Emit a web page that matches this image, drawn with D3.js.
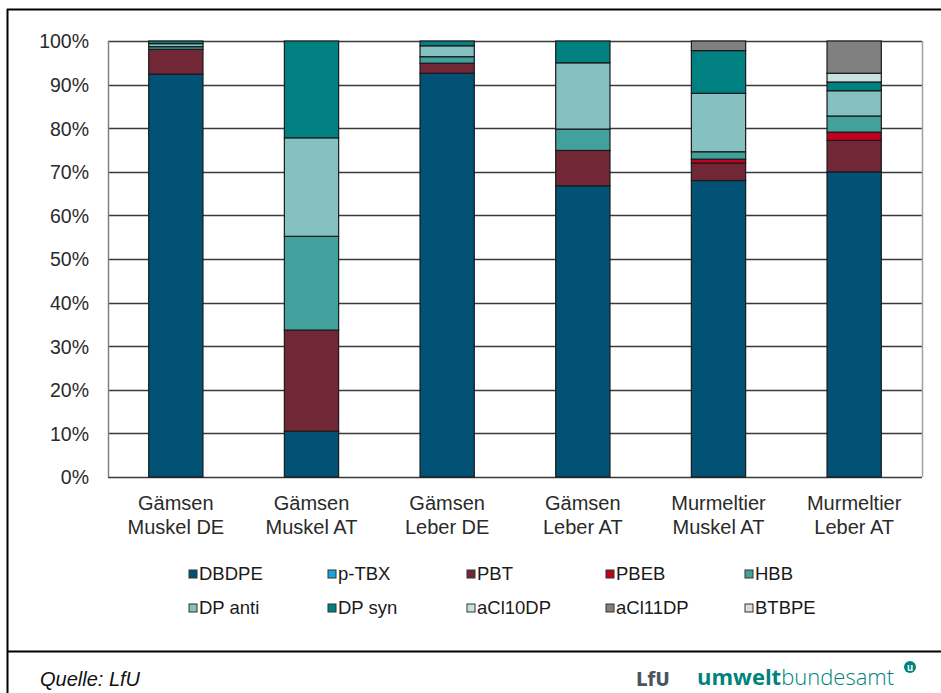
<!DOCTYPE html>
<html><head><meta charset="utf-8">
<script src="https://cdn.jsdelivr.net/npm/d3@7"></script>
<style>body{margin:0;background:#fff}svg{display:block;font-family:"Liberation Sans",Arial,sans-serif}</style>
</head><body><svg id="c" width="941" height="693"></svg>
<script>
const categories = [["Gämsen","Muskel DE"],["Gämsen","Muskel AT"],["Gämsen","Leber DE"],["Gämsen","Leber AT"],["Murmeltier","Muskel AT"],["Murmeltier","Leber AT"]];
const seriesNames = ["DBDPE","p-TBX","PBT","PBEB","HBB","DP anti","DP syn","aCl10DP","aCl11DP","BTBPE"];
const DBDPE   = [92.4, 10.5, 92.6, 66.8, 68.0, 70.0];
const pTBX    = [0, 0, 0, 0, 0, 0];
const PBT     = [5.7, 23.2, 2.3, 8.1, 4.0, 7.2];
const PBEB    = [0, 0, 0, 0, 0.9, 1.9];
const HBB     = [0.6, 21.5, 1.5, 4.9, 1.7, 3.7];
const DPanti  = [0.7, 22.6, 2.5, 15.2, 13.4, 5.8];
const DPsyn   = [0.6, 22.2, 1.1, 5.0, 9.8, 2.0];
const aCl10DP = [0, 0, 0, 0, 0, 2.0];
const aCl11DP = [0, 0, 0, 0, 2.2, 7.4];
const BTBPE   = [0, 0, 0, 0, 0, 0];
const seriesValues = [DBDPE, pTBX, PBT, PBEB, HBB, DPanti, DPsyn, aCl10DP, aCl11DP, BTBPE];
const colors = ["#025275","#1aa3dc","#722737","#c0001c","#43a19d","#85c1c1","#008080","#c7e3e1","#808080","#dcdcdc"];
const yTicks = [0,10,20,30,40,50,60,70,80,90,100];

const svg = d3.select("#c");
const L = 108, R = 922, T = 41, B = 477;

// outer frame
svg.append("line").attr("x1",7).attr("x2",941).attr("y1",9.5).attr("y2",9.5).attr("stroke","#000").attr("stroke-width",2);
svg.append("line").attr("x1",7.5).attr("x2",7.5).attr("y1",9).attr("y2",693).attr("stroke","#000").attr("stroke-width",2);
svg.append("line").attr("x1",7).attr("x2",941).attr("y1",651.5).attr("y2",651.5).attr("stroke","#000").attr("stroke-width",2);

const table = categories.map((c,i)=>{const o={cat:i}; seriesNames.forEach((s,j)=>o[s]=seriesValues[j][i]); return o;});
const stack = d3.stack().keys(seriesNames)(table);

const x = d3.scaleBand().domain(d3.range(categories.length)).range([L,R]).paddingInner(0.6).paddingOuter(0.3);
const y = d3.scaleLinear().domain([0,100]).range([B,T]);

// gridlines
svg.append("g").selectAll("line").data(yTicks).join("line")
  .attr("x1",L).attr("x2",R).attr("y1",d=>Math.round(y(d))+0.5).attr("y2",d=>Math.round(y(d))+0.5)
  .attr("stroke","#3a3a3a").attr("stroke-width",1.6);
svg.append("line").attr("x1",L+0.5).attr("x2",L+0.5).attr("y1",T).attr("y2",B).attr("stroke","#808080").attr("stroke-width",1.5);
svg.append("line").attr("x1",R+0.5).attr("x2",R+0.5).attr("y1",T).attr("y2",B).attr("stroke","#a0a0a0").attr("stroke-width",1.5);

// y axis
const yAxis = d3.axisLeft(y).tickValues(yTicks).tickFormat(d=>d+"%").tickSize(0).tickPadding(0);
const ya = svg.append("g").attr("transform",`translate(${L-19},0)`).call(yAxis);
ya.select(".domain").remove();
ya.selectAll("text").attr("font-size",19.5).attr("fill","#2a2a2a").attr("font-family","Liberation Sans, Arial").attr("dy","0.35em");

// bars
stack.forEach((s,k)=>{
  svg.append("g").selectAll("rect").data(s.filter(d=>d[1]-d[0]>0)).join("rect")
    .attr("x",d=>x(d.data.cat)).attr("width",x.bandwidth())
    .attr("y",d=>y(d[1])).attr("height",d=>y(d[0])-y(d[1]))
    .attr("fill",colors[k]).attr("stroke","#1a1a1a").attr("stroke-width",1.2);
});

// x axis labels
const xa = svg.append("g");
categories.forEach((c,i)=>{
  const t = xa.append("text").attr("x",x(i)+x.bandwidth()/2).attr("text-anchor","middle").attr("font-size",20).attr("fill","#2a2a2a");
  t.append("tspan").attr("x",x(i)+x.bandwidth()/2).attr("y",510).text(c[0]);
  t.append("tspan").attr("x",x(i)+x.bandwidth()/2).attr("y",534).text(c[1]);
});

// legend
const leg = svg.append("g");
seriesNames.forEach((s,i)=>{
  const col = i%5, row = Math.floor(i/5);
  const lx = 189 + col*139, ly = 574 + row*34;
  leg.append("rect").attr("x",lx).attr("y",ly-4).attr("width",8).attr("height",8)
    .attr("fill",colors[i]).attr("stroke","#333").attr("stroke-width",1);
  leg.append("text").attr("x",lx+10).attr("y",ly).attr("dy","0.35em").attr("font-size",18.5).attr("fill","#1a1a1a").text(s);
});

// footer
svg.append("text").attr("x",40).attr("y",686).attr("font-size",20).attr("font-style","italic").attr("fill","#111").text("Quelle: LfU");
svg.append("text").attr("x",636).attr("y",686).attr("font-size",20).attr("font-weight","bold").attr("fill","#4a5560").attr("font-family","DejaVu Sans Condensed, Liberation Sans").text("LfU");
const ub = svg.append("text").attr("x",697).attr("y",685).attr("font-size",22).attr("fill","#00837c").attr("font-family","Open Sans, DejaVu Sans");
ub.append("tspan").attr("font-weight","bold").text("umwelt");
ub.append("tspan").attr("font-weight","300").text("bundesamt");
svg.append("circle").attr("cx",910).attr("cy",667).attr("r",6).attr("fill","#00837c");
svg.append("text").attr("x",910).attr("y",671).attr("text-anchor","middle").attr("font-size",10).attr("font-weight","bold").attr("fill","#fff").text("u");
</script></body></html>
